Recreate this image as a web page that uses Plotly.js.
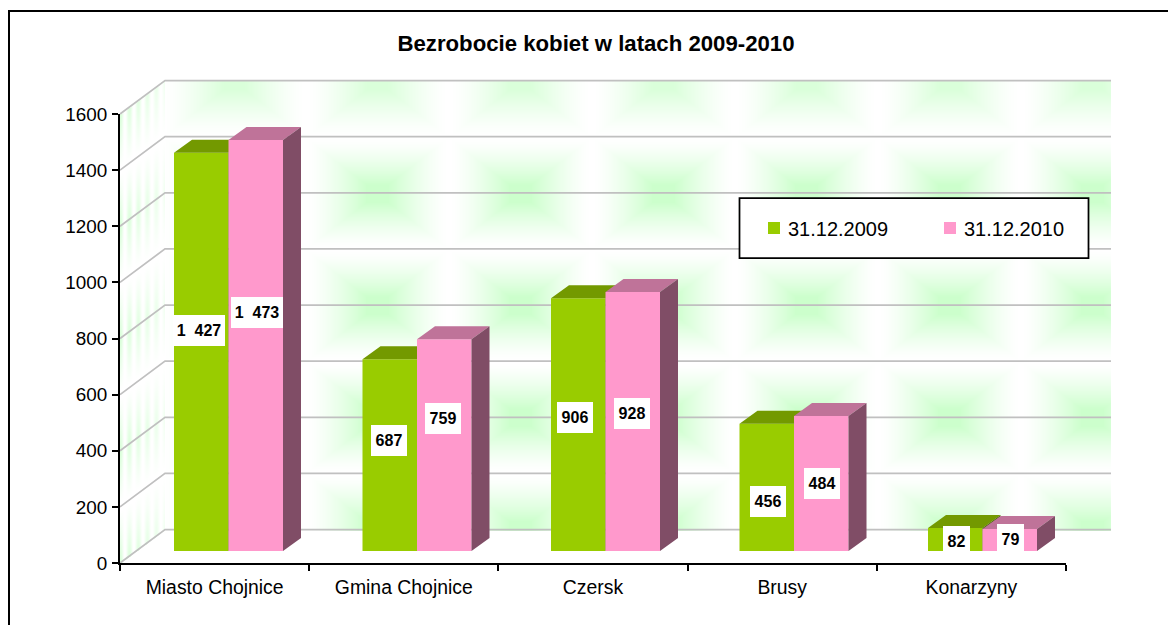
<!DOCTYPE html>
<html><head><meta charset="utf-8">
<script src="https://cdn.plot.ly/plotly-3.0.1.min.js"></script>
<style>html,body{margin:0;padding:0;background:#fff}#chart{width:1168px;height:625px}
g.legendpoints{transform:translateX(6px)}</style>
</head><body><div id="chart"></div>
<script>
// ---------- data ----------
var categories = ['Miasto Chojnice','Gmina Chojnice','Czersk','Brusy','Konarzyny'];
var series2009 = [1427,687,906,456,82];
var series2010 = [1473,759,928,484,79];
var name2009 = '31.12.2009';
var name2010 = '31.12.2010';
var labels2009 = ['1\u00a0\u00a0427','687','906','456','82'];
var labels2010 = ['1\u00a0\u00a0473','759','928','484','79'];
var gridValues = [0,200,400,600,800,1000,1200,1400,1600];
var titleText = 'Bezrobocie kobiet w latach 2009-2010';

// ---------- manual label nudges (px) ----------
var shiftY2009 = [21.7,14.7,7,-14,-2];
var shiftY2010 = [33.2,26.6,8,0,0];
var shiftX2009 = [-2,-1,-3,1,1];
var shiftX2010 = [1,-1,-1,1,1];

// ---------- geometry (page px) ----------
var L=120, R=1066, T=114, B=563;
var W=R-L, H=B-T;
var wallDX=45, wallDY=33.5;
var barPitch=188.5, barFirst=228.5, barBase=551, barScale=0.279;
var barW=54.5/barPitch, depthX=18/barPitch, depthY=13/barScale;

var x2range=[(L-barFirst)/barPitch,(R-barFirst)/barPitch];
var y2range=[(barBase-B)/barScale,(barBase-T)/barScale];

// ---------- wall texture ----------
function texture(){
  var x0=L, y0=T-wallDY, cw=L+W+wallDX-x0, ch=B-y0;
  var c=document.createElement('canvas'); c.width=cw; c.height=ch;
  var g=c.getContext('2d'); var im=g.createImageData(cw,ch);
  var px=143, py=112, cx0=377, cy0=81;
  function tri(d,p){d=((d%p)+p)%p; return d>p/2?p-d:d;}
  for(var j=0;j<ch;j++){for(var i=0;i<cw;i++){
    var x=i+x0, y=j+y0, a=0;
    var wallLeft=L+wallDX;
    if(x>=wallLeft){
      if(y<=B-wallDY){
        var dx=tri(x-cx0,px), dy=tri(y-cy0,py);
        var t=Math.max(0,1-Math.max(dx/70,dy/54));
        a=Math.pow(t,1.35)*1.25; if(a>1)a=1;
        if(y<cy0+py/2) a*=0.72;
      }
    } else {
      var frac=(x-L)/wallDX, top=T-frac*wallDY;
      if(y>=top && y<=B-frac*wallDY){
        var d2=tri(y-top,py);
        var t2=Math.max(0,1-d2/52);
        var st=0.5+0.5*Math.cos((x-L)*2*Math.PI/9);
        a=t2*st*(1-frac*0.6)*0.75;
      }
    }
    var k=(i+j*cw)*4;
    im.data[k]=255-51*a; im.data[k+1]=255; im.data[k+2]=255-51*a; im.data[k+3]=255;
  }}
  g.putImageData(im,0,0);
  return c.toDataURL('image/png');
}

// ---------- faces ----------
function topFace(vals,off){
  var X=[],Y=[];
  vals.forEach(function(v,i){
    var a=i+off, b=a+barW;
    X.push(a,a+depthX,b+depthX,b,a,null);
    Y.push(v,v+depthY,v+depthY,v,v,null);
  });
  return {x:X,y:Y};
}
function sideFace(vals,off){
  var X=[],Y=[];
  vals.forEach(function(v,i){
    var b=i+off+barW;
    X.push(b,b+depthX,b+depthX,b,b,null);
    Y.push(0,depthY,v+depthY,v,0,null);
  });
  return {x:X,y:Y};
}
var idx=categories.map(function(c,i){return i;});
function faceTrace(f,color,xa,ya){
  return {x:f.x,y:f.y,xaxis:xa,yaxis:ya,type:'scatter',mode:'none',fill:'toself',fillcolor:color,
          showlegend:false,hoverinfo:'skip'};
}
var traces=[
  {x:categories,y:series2009,type:'scatter',mode:'markers',marker:{opacity:0,size:1},showlegend:false,hoverinfo:'skip'},
  {x:idx,y:series2009,name:name2009,type:'bar',xaxis:'x2',yaxis:'y2',width:barW,offset:-barW,marker:{color:'#99CC00',line:{width:0}},
    customdata:categories,hovertemplate:'%{customdata}: %{y}<extra>'+name2009+'</extra>'},
  faceTrace(topFace(series2009,-barW),'#739900','x2','y2'),
  faceTrace(sideFace(series2009,-barW),'#4D6600','x2','y2'),
  {x:idx,y:series2010,name:name2010,type:'bar',xaxis:'x3',yaxis:'y3',width:barW,offset:0,marker:{color:'#FF99CC',line:{width:0}},
    customdata:categories,hovertemplate:'%{customdata}: %{y}<extra>'+name2010+'</extra>'},
  faceTrace(topFace(series2010,0),'#BF7399','x3','y3'),
  faceTrace(sideFace(series2010,0),'#804D66','x3','y3')
];

// ---------- shapes ----------
var shapes=[];
gridValues.forEach(function(v){
  var py=v/1600, dxp=wallDX/W, dyp=wallDY/H;
  shapes.push({type:'path',xref:'paper',yref:'paper',layer:'below',
    path:'M0,'+py+' L'+dxp+','+(py+dyp)+' L'+(1+dxp)+','+(py+dyp),
    line:{color:'#C0C0C0',width:1.75}});
});
// outer frame (top + left)
var fx=(9-L)/W, fy=(B-11)/H;
shapes.push({type:'path',xref:'paper',yref:'paper',layer:'above',path:'M'+fx+',-0.2 L'+fx+','+fy+' L1.2,'+fy,line:{color:'#000',width:2}});
// legend box
shapes.push({type:'rect',xref:'paper',yref:'paper',layer:'above',
  x0:(739.5-L)/W,x1:(1088.5-L)/W,y0:(B-258)/H,y1:(B-198)/H,fillcolor:'#fff',line:{color:'#000',width:1.75}});

// ---------- annotations ----------
var annos=[];
function addLabels(labels,vals,sx,sy,off,xa,ya){
  labels.forEach(function(t,i){
    var n=t.length;
    annos.push({x:i+off+barW/2,y:vals[i]/2,xref:xa,yref:ya,xshift:sx[i],yshift:sy[i],text:'<b>'+t+'</b>',showarrow:false,
      bgcolor:'#fff',borderpad:0,borderwidth:0,xanchor:'center',yanchor:'middle',align:'center',valign:'middle',
      width:n>3?52:(n>2?36:27),height:31,
      font:{family:'"Liberation Sans",Arial,sans-serif',size:16,color:'#000'}});
  });
}
addLabels(labels2009,series2009,shiftX2009,shiftY2009,-barW,'x2','y2');
addLabels(labels2010,series2010,shiftX2010,shiftY2010,0,'x3','y3');

var fam='"Liberation Sans",Arial,sans-serif';
var layout={
  width:1168,height:625,margin:{l:L,r:1168-R,t:T,b:625-B,pad:0},autosize:false,
  paper_bgcolor:'#fff',plot_bgcolor:'rgba(0,0,0,0)',font:{family:fam,size:19,color:'#000'},showlegend:true,barmode:'overlay',
  title:{text:'<b>'+titleText+'</b>',x:596/1168,xanchor:'center',y:1-43/625,yanchor:'middle',font:{family:fam,size:22.2,color:'#000'}},
  xaxis:{type:'category',categoryorder:'array',categoryarray:categories,range:[-0.5,4.5],tickson:'boundaries',ticks:'outside',ticklen:6,tickwidth:1.75,tickcolor:'#000',
    showline:true,linecolor:'#000',linewidth:1.75,showgrid:false,zeroline:false,tickfont:{family:fam,size:19.4,color:'#000'},automargin:false,ticklabelstandoff:6},
  yaxis:{range:[0,1600],tickvals:gridValues,ticks:'outside',ticklen:6,tickwidth:1.75,tickcolor:'#000',
    showline:true,linecolor:'#000',linewidth:1.75,showgrid:false,zeroline:false,tickfont:{family:fam,size:18.9,color:'#000'},automargin:false,ticklabelstandoff:1},
  xaxis2:{overlaying:'x',range:x2range,visible:false,anchor:'y2'},
  yaxis2:{overlaying:'y',range:y2range,visible:false,anchor:'x2'},
  xaxis3:{overlaying:'x',range:x2range,visible:false,anchor:'y3'},
  yaxis3:{overlaying:'y',range:y2range,visible:false,anchor:'x3'},
  legend:{orientation:'h',x:(748-L)/W,xanchor:'left',y:(B-228)/H,yanchor:'middle',bgcolor:'rgba(0,0,0,0)',borderwidth:0,
    entrywidth:131,entrywidthmode:'pixels',itemwidth:30,font:{family:fam,size:20,color:'#000'},itemclick:false,itemdoubleclick:false},
  images:[{source:texture(),xref:'paper',yref:'paper',x:0,y:(B-T+wallDY)/H,sizex:(W+wallDX)/W,sizey:(B-T+wallDY)/H,
    sizing:'stretch',xanchor:'left',yanchor:'top',layer:'below'}],
  shapes:shapes,annotations:annos
};
Plotly.newPlot('chart',traces,layout,{displayModeBar:false,responsive:false});
</script></body></html>
